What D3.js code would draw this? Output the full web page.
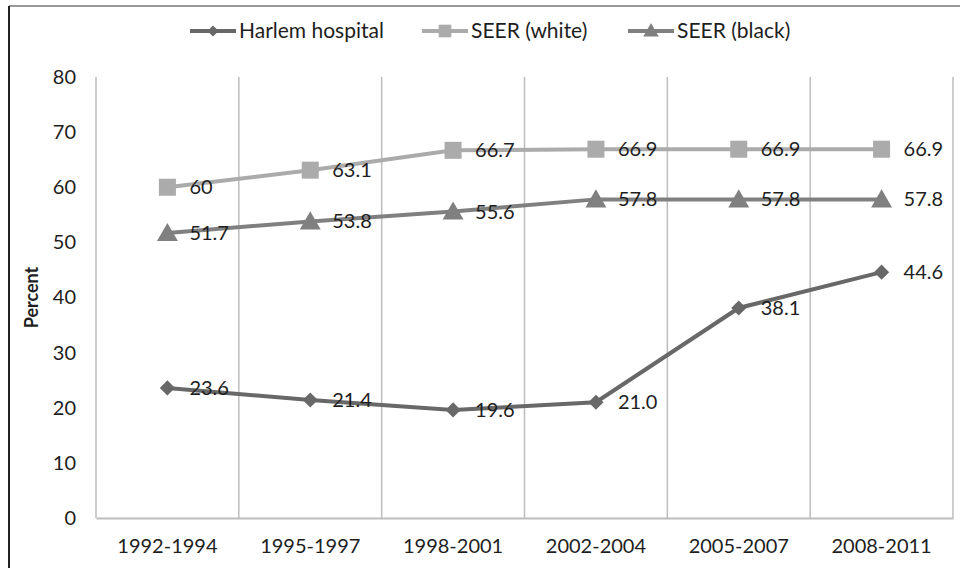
<!DOCTYPE html>
<html><head><meta charset="utf-8">
<script src="https://cdn.jsdelivr.net/npm/d3@7"></script>
<style>body{margin:0;background:#fff}svg{display:block}text{font-family:Lato,"Open Sans",sans-serif;fill:#1e1e1e}</style>
</head><body>
<svg id="c" width="960" height="568"></svg>
<script>
const categories = ["1992-1994","1995-1997","1998-2001","2002-2004","2005-2007","2008-2011"];
const harlem = [23.6,21.4,19.6,21.0,38.1,44.6];
const seerWhite = [60,63.1,66.7,66.9,66.9,66.9];
const seerBlack = [51.7,53.8,55.6,57.8,57.8,57.8];
const harlemLabels = ["23.6","21.4","19.6","21.0","38.1","44.6"];
const whiteLabels = ["60","63.1","66.7","66.9","66.9","66.9"];
const blackLabels = ["51.7","53.8","55.6","57.8","57.8","57.8"];
const yTicks = [0,10,20,30,40,50,60,70,80];
const seriesNames = ["Harlem hospital","SEER (white)","SEER (black)"];

const svg = d3.select("#c");
const W=960,H=568;
const m={left:96,right:7,top:77,bottom:50};
const FONT = "Lato,'Open Sans',sans-serif";
const x = d3.scaleBand().domain(categories).range([m.left,W-m.right]);
const y = d3.scaleLinear().domain([0,80]).range([H-m.bottom,m.top]);

// outer frame
svg.append("line").attr("x1",9).attr("x2",W).attr("y1",6).attr("y2",6).attr("stroke","#999").attr("stroke-width",2);
svg.append("line").attr("x1",9).attr("x2",9).attr("y1",6).attr("y2",H).attr("stroke","#222").attr("stroke-width",2);

// vertical gridlines at band boundaries
const bounds = categories.map(c=>x(c)).concat([x.range()[1]]);
svg.append("g").selectAll("line").data(bounds).join("line")
  .attr("x1",d=>d).attr("x2",d=>d).attr("y1",y(80)).attr("y2",y(0))
  .attr("stroke","#bdbdbd").attr("stroke-width",1.5);

// x axis
const xa = svg.append("g").attr("transform",`translate(0,${y(0)})`)
  .call(d3.axisBottom(x).tickSize(0).tickPadding(21));
xa.select(".domain").attr("stroke","#bdbdbd").attr("stroke-width",2);
xa.selectAll("text").style("font-size","20px").style("font-family",FONT).attr("fill","#1e1e1e");

// y axis
const ya = svg.append("g").attr("transform",`translate(${m.left},0)`)
  .call(d3.axisLeft(y).tickValues(yTicks).tickSize(0).tickPadding(20));
ya.select(".domain").remove();
ya.selectAll("text").style("font-size","20px").style("font-family",FONT).attr("fill","#1e1e1e");

svg.append("text").attr("transform",`translate(38,${(y(0)+y(80))/2}) rotate(-90)`)
  .attr("text-anchor","middle").style("font-size","18px").style("font-weight","bold").text("Percent");

const series = [
  {name:seriesNames[0],vals:harlem,labels:harlemLabels,color:"#686868",shape:"diamond"},
  {name:seriesNames[1],vals:seerWhite,labels:whiteLabels,color:"#ababab",shape:"square"},
  {name:seriesNames[2],vals:seerBlack,labels:blackLabels,color:"#808080",shape:"triangle"}
];
function marker(shape, scale){
  if(shape==="diamond") return d3.symbol().type(d3.symbolSquare).size(115*scale)();
  if(shape==="square") return d3.symbol().type(d3.symbolSquare).size(290*scale)();
  return d3.symbol().type(d3.symbolTriangle).size(190*scale)();
}
const rot = s=>s==="diamond"?" rotate(45)":"";
const cx = c=>x(c)+x.bandwidth()/2;
const line = d3.line().x((d,i)=>cx(categories[i])).y(d=>y(d));

series.forEach(s=>{
  const g = svg.append("g");
  g.append("path").datum(s.vals).attr("d",line).attr("fill","none").attr("stroke",s.color).attr("stroke-width",4);
  g.selectAll("path.m").data(s.vals).join("path").attr("class","m")
    .attr("d",marker(s.shape,1)).attr("fill",s.color)
    .attr("transform",(d,i)=>`translate(${cx(categories[i])},${y(d)+(s.shape==="triangle"?2:0)})`+rot(s.shape));
  g.selectAll("text").data(s.vals).join("text")
    .attr("x",(d,i)=>cx(categories[i])+22).attr("y",d=>y(d)).attr("dy","0.35em")
    .style("font-size","20px").text((d,i)=>s.labels[i]);
});

// legend
const legX = [190,422,628];
series.forEach((s,i)=>{
  const g = svg.append("g").attr("transform",`translate(${legX[i]},31)`);
  g.append("line").attr("x1",0).attr("x2",46).attr("stroke",s.color).attr("stroke-width",4);
  g.append("path").attr("d",marker(s.shape,0.55))
    .attr("fill",s.color).attr("transform",`translate(23,${s.shape==="triangle"?1:0})`+rot(s.shape));
  g.append("text").attr("x",49).attr("dy","0.35em").style("font-size","21px").text(s.name);
});
</script>
</body></html>
